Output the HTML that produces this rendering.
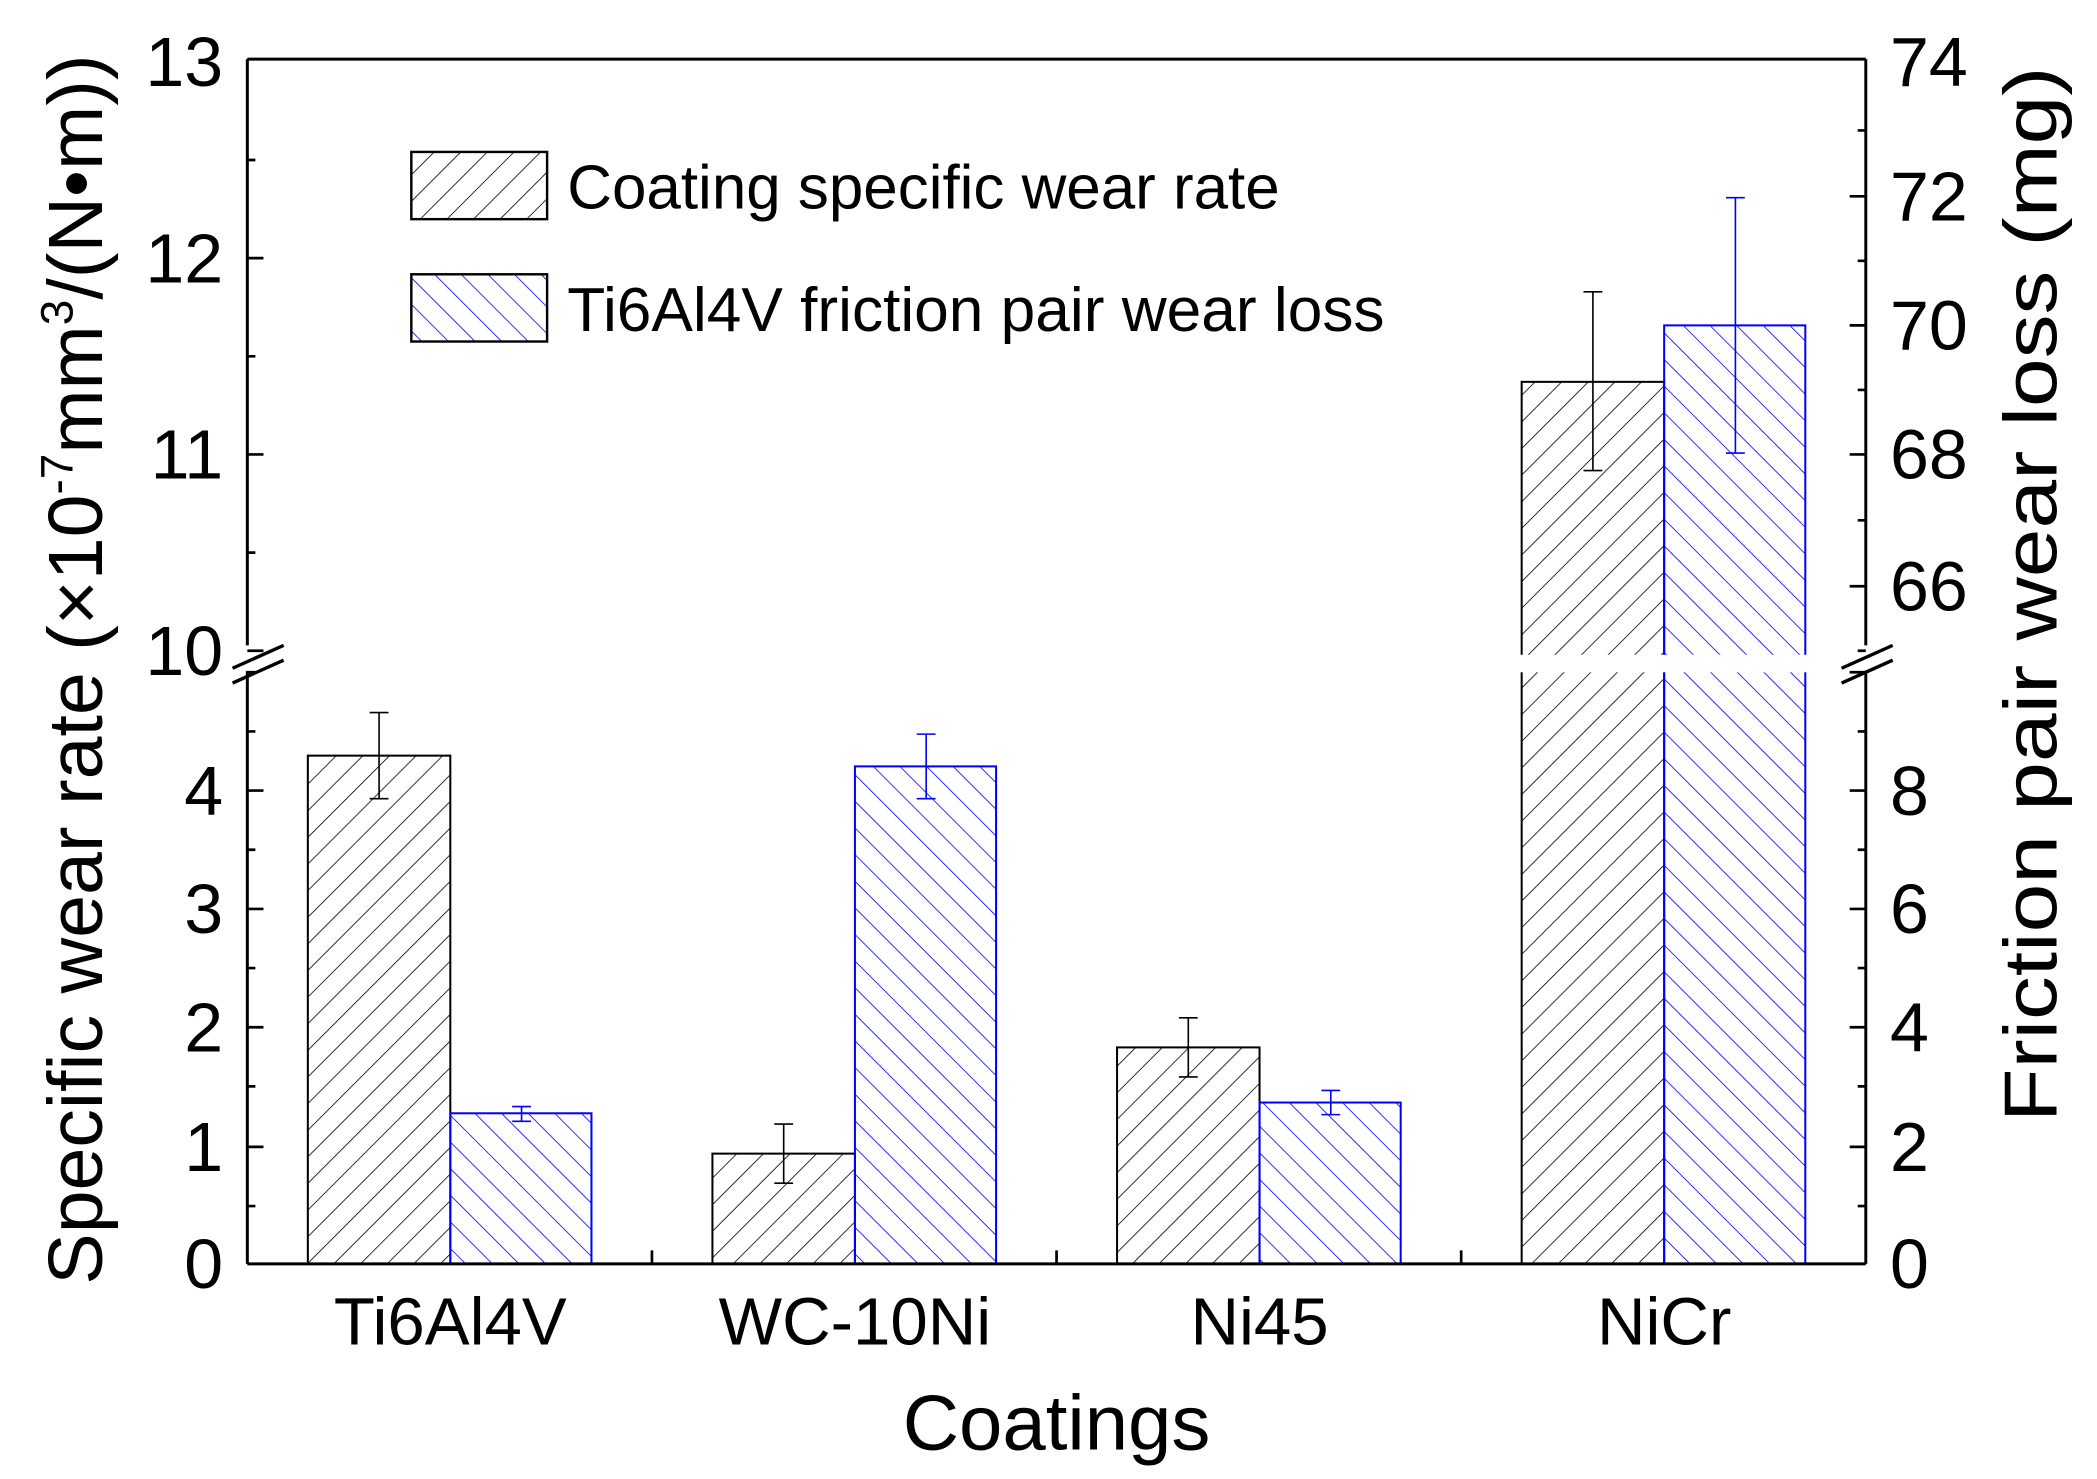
<!DOCTYPE html>
<html><head><meta charset="utf-8"><style>html,body{margin:0;padding:0;background:#fff}svg{display:block}</style></head>
<body>
<svg width="2097" height="1479" viewBox="0 0 1560 1100" preserveAspectRatio="none" xmlns="http://www.w3.org/2000/svg" font-family="'Liberation Sans', Arial, sans-serif">
<defs>
<pattern id="hb" patternUnits="userSpaceOnUse" width="14" height="14" patternTransform="rotate(45)">
<line x1="0" y1="0" x2="0" y2="14" stroke="#000" stroke-width="1.2"/></pattern>
<pattern id="hu" patternUnits="userSpaceOnUse" width="14" height="14" patternTransform="rotate(-45)">
<line x1="0" y1="0" x2="0" y2="14" stroke="#00f" stroke-width="1.2"/></pattern>
</defs>
<g stroke-width="1.5">
<rect x="229" y="562" width="106" height="378" fill="url(#hb)" stroke="#000"/>
<rect x="335" y="828" width="105" height="112" fill="url(#hu)" stroke="#00f"/>
<rect x="530" y="858" width="106" height="82" fill="url(#hb)" stroke="#000"/>
<rect x="636" y="570" width="105" height="370" fill="url(#hu)" stroke="#00f"/>
<rect x="831" y="779" width="106" height="161" fill="url(#hb)" stroke="#000"/>
<rect x="937" y="820" width="105" height="120" fill="url(#hu)" stroke="#00f"/>
<rect x="1132" y="284" width="106" height="656" fill="url(#hb)" stroke="#000"/>
<rect x="1238" y="242" width="105" height="698" fill="url(#hu)" stroke="#00f"/>
<rect x="1125" y="487" width="225" height="13" fill="#fff"/>
</g>
<g stroke="#000" stroke-width="1.2" fill="none">
<path d="M282 530V594M275 530H289M275 594H289"/>
<path d="M583 836V880M576 836H590M576 880H590"/>
<path d="M884 757V801M877 757H891M877 801H891"/>
<path d="M1185 217V350M1178 217H1192M1178 350H1192"/>
</g>
<g stroke="#00f" stroke-width="1.2" fill="none">
<path d="M388 823V834M381 823H395M381 834H395"/>
<path d="M689 546V594M682 546H696M682 594H696"/>
<path d="M990 811V829M983 811H997M983 829H997"/>
<path d="M1291 147V337M1284 147H1298M1284 337H1298"/>
</g>
<g stroke="#000" stroke-width="2.2" fill="none">
<path d="M184 44H1388"/>
<path d="M184 940H1388"/>
<path d="M184 44V480M184 499V940"/>
<path d="M1388 44V480M1388 499V940"/>
<path d="M173 497L211 480M173 508L211 491" stroke-width="2.5"/>
<path d="M1370 497L1408 480M1370 508L1408 491" stroke-width="2.5"/>
</g>
<g stroke="#000" stroke-width="2" fill="none">
<path d="M184 853h12M184 764h12M184 676h12M184 588h12"/>
<path d="M184 897h6M184 808h6M184 720h6M184 632h6M184 544h6M184 500h6"/>
<path d="M184 338h12M184 192h12M184 484h12"/>
<path d="M184 411h6M184 265h6M184 119h6"/>
<path d="M1388 853h-12M1388 764h-12M1388 676h-12M1388 588h-12M1388 500h-12"/>
<path d="M1388 897h-6M1388 808h-6M1388 720h-6M1388 632h-6M1388 544h-6"/>
<path d="M1388 436h-12M1388 338h-12M1388 242h-12M1388 146h-12"/>
<path d="M1388 484h-6M1388 387h-6M1388 290h-6M1388 194h-6M1388 97h-6"/>
<path d="M485 940v-10M786 940v-10M1087 940v-10"/>
</g>
<g font-size="52" text-anchor="end" fill="#000">
<text x="166" y="958">0</text><text x="166" y="871">1</text><text x="166" y="782">2</text>
<text x="166" y="694">3</text><text x="166" y="606">4</text>
<text x="166" y="502">10</text><text x="166" y="356">11</text><text x="166" y="210">12</text><text x="166" y="64">13</text>
</g>
<g font-size="52" text-anchor="start" fill="#000">
<text x="1406" y="958">0</text><text x="1406" y="871">2</text><text x="1406" y="782">4</text>
<text x="1406" y="694">6</text><text x="1406" y="606">8</text>
<text x="1406" y="454">66</text><text x="1406" y="356">68</text><text x="1406" y="260">70</text>
<text x="1406" y="164">72</text><text x="1406" y="64">74</text>
</g>
<g font-size="50" text-anchor="middle">
<text x="335" y="1000">Ti6Al4V</text><text x="636" y="1000">WC-10Ni</text>
<text x="937" y="1000">Ni45</text><text x="1238" y="1000">NiCr</text>
<text x="786" y="1078" font-size="58">Coatings</text>
</g>
<text transform="translate(76,498) rotate(-90)" font-size="57" text-anchor="middle" textLength="915" lengthAdjust="spacingAndGlyphs">Specific wear rate (×10<tspan dy="-22" font-size="34">-7</tspan><tspan dy="22">mm</tspan><tspan dy="-22" font-size="34">3</tspan><tspan dy="22">/(N•m))</tspan></text>
<text transform="translate(1530,442) rotate(-90)" font-size="56" text-anchor="middle" textLength="785" lengthAdjust="spacingAndGlyphs">Friction pair wear loss (mg)</text>
<rect x="306" y="113" width="101" height="50" fill="url(#hb)" stroke="#000" stroke-width="1.8"/>
<rect x="306" y="204" width="101" height="50" fill="url(#hu)" stroke="#000" stroke-width="1.8"/>
<text x="422" y="155" font-size="46" textLength="530" lengthAdjust="spacingAndGlyphs">Coating specific wear rate</text>
<text x="422" y="246" font-size="46" textLength="608" lengthAdjust="spacingAndGlyphs">Ti6Al4V friction pair wear loss</text>
</svg>
</body></html>
